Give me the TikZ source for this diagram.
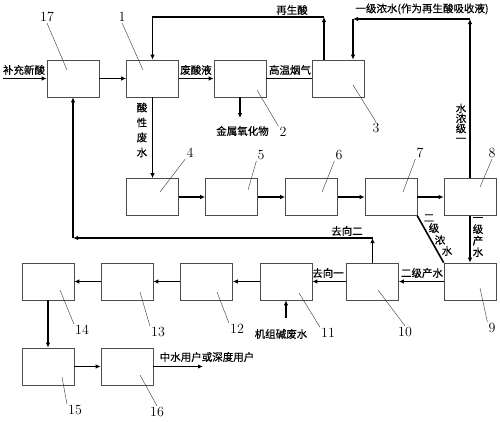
\documentclass[tikz,border=0pt]{standalone}
\usepackage{fontspec}
\newfontfamily\cjk[FakeBold=0.5]{Noto Sans CJK SC}
\usepackage{tikz}
\usetikzlibrary{calc, arrows.meta}

\begin{document}
\begin{tikzpicture}[
  x=1pt, y=-1pt,
  box/.style={draw=black!70, line width=0.6pt, minimum width=52pt, minimum height=37pt, inner sep=0pt},
  line/.style={line width=1.6pt},
  flow/.style={line, -{Latex[length=5pt,width=4.5pt]}},
  leader/.style={line width=0.4pt, black!80},
  num/.style={font=\fontsize{14}{14}\selectfont, inner sep=1pt},
  lbl/.style={font=\cjk\fontsize{10.5}{12}\selectfont, inner sep=1pt},
  vlbl/.style={lbl, align=center, text width=11pt}
]
\useasboundingbox (0,0) rectangle (500,421);

% Units, first row
\node[box] (b17) at (73,78.5) {};
\node[box] (b1) at (152.5,78.5) {};
\node[box] (b2) at (240,78.5) {};
\node[box] (b3) at (338.5,78.5) {};

% Units, second row
\node[box] (b4) at (152.5,197) {};
\node[box] (b5) at (231.5,197) {};
\node[box] (b6) at (311.5,197) {};
\node[box] (b7) at (391,197) {};
\node[box] (b8) at (470,197) {};

% Units, third row
\node[box] (b9) at (470,281.5) {};
\node[box] (b10) at (372.5,281.5) {};
\node[box] (b11) at (286,281.5) {};
\node[box] (b12) at (206.5,281.5) {};
\node[box] (b13) at (127,281.5) {};
\node[box] (b14) at (48,281.5) {};

% Units, fourth row
\node[box] (b15) at (48,366.5) {};
\node[box] (b16) at (127,366.5) {};

% Free ends and bends
\coordinate (in) at (3,78.5);
\coordinate (oxide) at (240,118);
\coordinate (r1) at (324,17);
\coordinate (r2) at (152.5,17);
\coordinate (c1) at (470,19);
\coordinate (c2) at (353,19);
\coordinate (g1) at (372.5,238);
\coordinate (g2) at (73,238);
\coordinate (alk) at (286,318);
\coordinate (out) at (203,366.5);

% Acid loop
\draw[flow] (in) -- (b17.west);
\node[lbl] (t1) at (24,70) {补充新酸};
\draw[flow] (b17.east) -- (b1.west);
\draw[flow] (b1.east) -- (b2.west);
\node[lbl] (t2) at (196,70) {废酸液};
\draw[line] (b2.east) -- (b3.west);
\node[lbl] (t3) at (290,70) {高温烟气};
\draw[flow] (b2.south) -- (oxide);
\node[lbl] (t4) at (242.5,131) {金属氧化物};
\draw[flow] (b3.north -| r1) -- (r1);
\draw[flow] (r1) -- (r2) -- (b1.north);
\node[lbl] (t5) at (292,10) {再生酸};
\draw[flow] (b8.north) -- (c1);
\draw[flow] (c1) -- (c2);
\draw[flow] (c2) -- (b3.north -| c2);
\node[lbl] (t6) at (422,9) {一级浓水(作为再生酸吸收液)};
\node[vlbl, font=\cjk\fontsize{10.5}{10}\selectfont] (t7) at (461,123) {水\\浓\\级\\一};

% Waste water line
\draw[flow] (b1.south) -- (b4.north);
\node[vlbl, font=\cjk\fontsize{10.5}{15}\selectfont] (t8) at (142,130) {酸\\性\\废\\水};
\draw[flow] (b4.east) -- (b5.west);
\draw[flow] (b5.east) -- (b6.west);
\draw[flow] (b6.east) -- (b7.west);
\draw[flow] (b7.east) -- (b8.west);
\draw[line] (b7.south east) -- (b9.north west);
\node[lbl] (t9a) at (429,218) {二};
\node[lbl] (t9b) at (434,228) {级};
\node[lbl] (t9c) at (440,240) {浓};
\node[lbl] (t9d) at (447,251) {水};
\draw[flow] (b8.south) -- (b9.north);
\node[vlbl, font=\cjk\fontsize{10.5}{11.5}\selectfont] (t10) at (478,237) {一\\级\\产\\水};

% Product water line
\draw[flow] (b9.west) -- (b10.east);
\node[lbl] (t11) at (422,273) {二级产水};
\draw[flow] (b10.west) -- (b11.east);
\node[lbl] (t12) at (328,273) {去向一};
\draw[flow] (b10.north) -- (g1);
\draw[flow] (g1) -- (g2);
\draw[flow] (g2) -- (b17.south);
\node[lbl] (t13) at (347,231) {去向二};
\draw[flow] (alk) -- (b11.south);
\node[lbl] (t14) at (281,334) {机组碱废水};
\draw[flow] (b11.west) -- (b12.east);
\draw[flow] (b12.west) -- (b13.east);
\draw[flow] (b13.west) -- (b14.east);
\draw[flow] (b14.south) -- (b15.north);
\draw[flow] (b15.east) -- (b16.west);
\draw[flow] (b16.east) -- (out);
\node[lbl] (t15) at (207,357) {中水用户或深度用户};

% Reference numbers
\node[num] (n17) at (47,17) {17};
\draw[leader] (n17.south) -- ($(b17)+(-6,-8.5)$);
\node[num] (n1) at (122,17) {1};
\draw[leader] (n1.south) -- ($(b1)+(-9.5,-8.5)$);
\node[num] (n2) at (283,132) {2};
\draw[leader] (n2.north west) -- ($(b2)+(17,11.5)$);
\node[num] (n3) at (376,128) {3};
\draw[leader] (n3.north) -- ($(b3)+(14.5,6.5)$);
\node[num] (n4) at (190,153) {4};
\draw[leader] (n4.south west) -- ($(b4)+(7.5,-5)$);
\node[num] (n5) at (261,155) {5};
\draw[leader] (n5.south west) -- ($(b5)+(16.5,-7)$);
\node[num] (n6) at (339,155) {6};
\draw[leader] (n6.south west) -- ($(b6)+(10.5,-5)$);
\node[num] (n7) at (420,153) {7};
\draw[leader] (n7.south west) -- ($(b7)+(12,-5)$);
\node[num] (n8) at (492,153) {8};
\draw[leader] (n8.south) -- ($(b8)+(10,-10)$);
\node[num] (n9) at (492,328) {9};
\draw[leader] (n9.north west) -- ($(b9)+(10,6.5)$);
\node[num] (n10) at (405,332) {10};
\draw[leader] (n10.north) -- ($(b10)+(5.5,8.5)$);
\node[num] (n11) at (328,333) {11};
\draw[leader] (n11.north west) -- ($(b11)+(13,11.5)$);
\node[num] (n12) at (237,329) {12};
\draw[leader] (n12.north west) -- ($(b12)+(10.5,10.5)$);
\node[num] (n13) at (158,332) {13};
\draw[leader] (n13.north west) -- ($(b13)+(13,10.5)$);
\node[num] (n14) at (82,330) {14};
\draw[leader] (n14.north west) -- ($(b14)+(12,8.5)$);
\node[num] (n15) at (75,410) {15};
\draw[leader] (n15.north west) -- ($(b15)+(14,10.5)$);
\node[num] (n16) at (157,412) {16};
\draw[leader] (n16.north) -- ($(b16)+(13,8.5)$);
\end{tikzpicture}
\end{document}
